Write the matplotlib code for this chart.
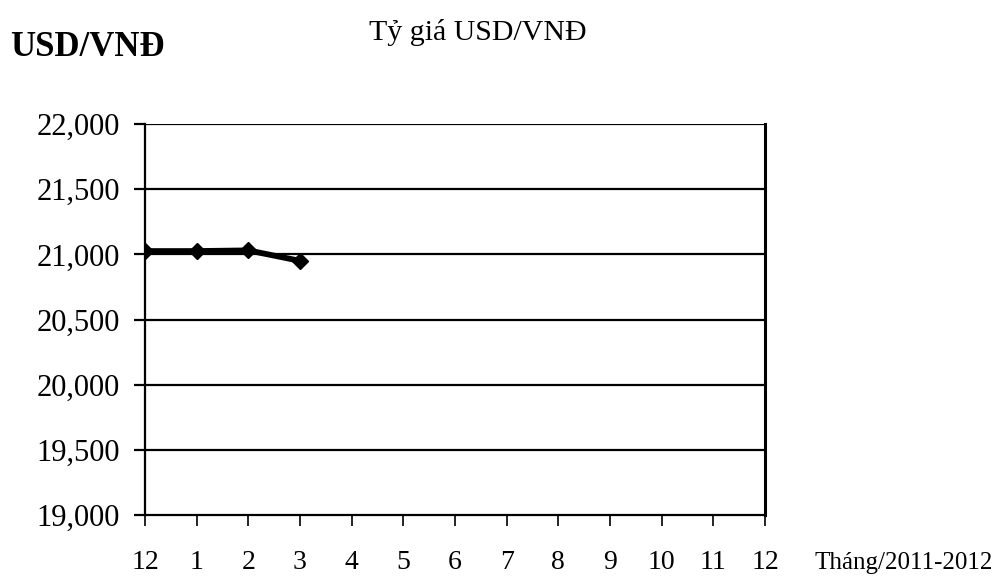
import matplotlib
matplotlib.use("Agg")
import matplotlib.pyplot as plt

# Data
month_labels = ["12", "1", "2", "3", "4", "5", "6", "7", "8", "9", "10", "11", "12"]
month_index = [0, 1, 2, 3]
exchange_rate = [21025, 21025, 21030, 20950]
y_ticks = [19000, 19500, 20000, 20500, 21000, 21500, 22000]

title = "Tỷ giá USD/VNĐ"
y_title = "USD/VNĐ"
x_title = "Tháng/2011-2012"

plt.rcParams["font.family"] = ["Liberation Serif", "DejaVu Serif"]

fig = plt.figure(figsize=(10.03, 5.8), dpi=100)
ax = fig.add_axes([145 / 1003, 65 / 580, 620 / 1003, 391 / 580])

ax.plot(month_index, exchange_rate, color="black", lw=4.2, marker="D",
        markersize=8, markerfacecolor="black", markeredgecolor="black",
        solid_joinstyle="round", zorder=3)

ax.set_xlim(0, len(month_labels) - 1)
ax.set_ylim(y_ticks[0], y_ticks[-1])
ax.set_xticks(range(len(month_labels)))
ax.set_xticklabels(month_labels, fontsize=20)
ax.set_yticks(y_ticks)
ax.set_yticklabels([f"{v:,}" for v in y_ticks], fontsize=22)

for v in y_ticks[1:]:
    ax.axhline(v, color="black", lw=1.6, zorder=1)

ax.tick_params(axis="x", direction="out", length=8, width=1.2, pad=17, colors="black")
ax.tick_params(axis="y", direction="out", length=8, width=1.6, pad=10, colors="black")

ax.spines["top"].set_visible(False)
ax.spines["left"].set_linewidth(1.6)
ax.spines["bottom"].set_linewidth(1.6)
ax.spines["right"].set_linewidth(2.2)

fig.text(815 / 1003, 1 - 563 / 580, x_title, fontsize=18, ha="left", va="center")
fig.text(478 / 1003, 1 - 32 / 580, title, fontsize=21.5, ha="center", va="center")
fig.text(10 / 1003, 1 - 47 / 580, y_title, fontsize=25, fontweight="bold",
         ha="left", va="center")

fig.savefig("out.png", dpi=100)
